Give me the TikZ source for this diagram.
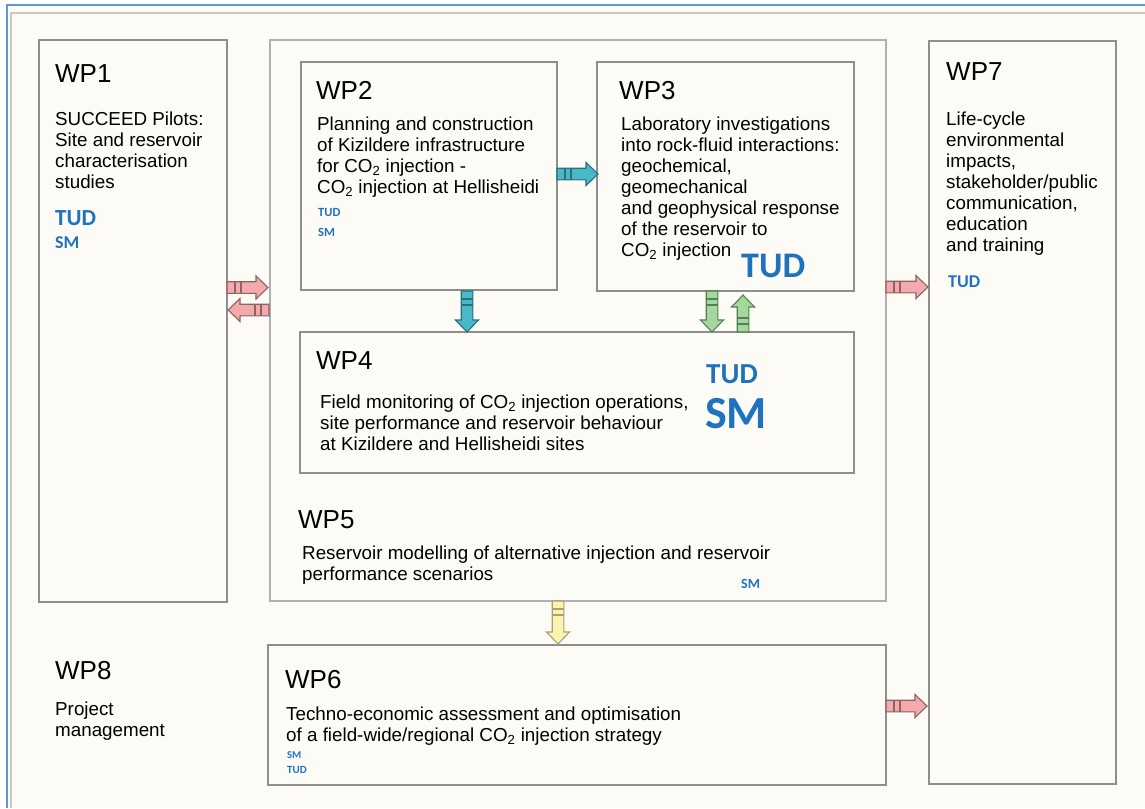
\documentclass[tikz,border=0pt]{standalone}
\usepackage{fontspec}
\setmainfont{Liberation Sans}
\newfontfamily\blfont{Carlito}
\usetikzlibrary{calc}
\definecolor{bgc}{HTML}{FCFBF6}
\definecolor{framebl}{HTML}{5B9BD5}
\definecolor{framegr}{HTML}{CCC8C0}
\definecolor{boxgr}{HTML}{8E8E8E}
\definecolor{tudblue}{HTML}{1F72BE}
\definecolor{pinkf}{HTML}{F4A9AD}
\definecolor{pinkd}{HTML}{8F6264}
\definecolor{tealf}{HTML}{47B9C9}
\definecolor{teald}{HTML}{2D6E78}
\definecolor{greenf}{HTML}{A6D79F}
\definecolor{greend}{HTML}{55804F}
\definecolor{yelf}{HTML}{FBF4AE}
\definecolor{yeld}{HTML}{A8A07A}
\newcommand\stk[1]{\vtop{\halign{##\hfil\cr#1\crcr}}}
\newcommand\cotwo{CO\textsubscript{2}}
\newcommand\bsz[1]{\blfont\bfseries\fontsize{#1}{#1}\selectfont}
\tikzset{
  box/.style={draw=boxgr, line width=1.2pt, fill=none, inner sep=0pt, outer sep=0pt, anchor=north west},
  wpl/.style={anchor=base west, inner sep=0pt, font=\fontsize{26}{30}\selectfont},
  txt/.style={anchor=base west, inner sep=0pt, font=\fontsize{18.8}{21}\selectfont},
  blu/.style={anchor=base west, inner sep=0pt, text=tudblue},
  barrow/.pic={
    \path[pic actions] (0,-5.8) -- (#1-12,-5.8) -- (#1-12,-11.5) -- (#1,0) -- (#1-12,11.5) -- (#1-12,5.8) -- (0,5.8) -- cycle;
    \path[pic actions, fill=none] (8,-5.8) -- (8,5.8) (14,-5.8) -- (14,5.8);
  },
  pinkarr/.style={fill=pinkf, draw=pinkd, line width=1.1pt},
  tealarr/.style={fill=tealf, draw=teald, line width=1.1pt},
  greenarr/.style={fill=greenf, draw=greend, line width=1.1pt},
  yelarr/.style={fill=yelf, draw=yeld, line width=1.1pt},
}
\begin{document}
\begin{tikzpicture}[x=1pt,y=-1pt]
\useasboundingbox (0,0) rectangle (1145,808);
\fill[white] (0,0) rectangle (1145,808);
\fill[bgc] (7,5) rectangle (1145,808);
\draw[framebl, line width=2pt] (7,808) -- (7,5) -- (1145,5);
\draw[framegr, line width=1.5pt] (11,808) -- (11,13) -- (1145,13);

% boxes
\node[box, minimum width=188, minimum height=562] (wp1) at (39,40) {};
\node[box, draw=boxgr!70, minimum width=616, minimum height=561] (cont) at (270,40) {};
\node[box, minimum width=256, minimum height=228] (wp2) at (301,62) {};
\node[box, minimum width=257, minimum height=229] (wp3) at (597,62) {};
\node[box, minimum width=554, minimum height=141] (wp4) at (300,332) {};
\node[box, minimum width=618, minimum height=140] (wp6) at (268,645) {};
\node[box, minimum width=187, minimum height=743] (wp7) at (929,41) {};

% arrows
\pic[pinkarr] at (227,287.5) {barrow=41};
\pic[pinkarr, rotate=180] at (269,310) {barrow=41};
\pic[tealarr] at (557,174) {barrow=41};
\pic[tealarr, rotate=-90] at (467,291) {barrow=41};
\pic[greenarr, rotate=-90] at (712,291) {barrow=41};
\pic[greenarr, rotate=90] at (743,332) {barrow=37};
\pic[yelarr, rotate=-90] at (558,601) {barrow=43};
\pic[pinkarr] at (886,287) {barrow=42};
\pic[pinkarr] at (886,706) {barrow=41};

% WP1
\node[wpl] (wp1l) at (55,82) {WP1};
\node[txt] (wp1t) at (55,125) {\stk{SUCCEED Pilots:\cr Site and reservoir\cr characterisation\cr studies}};
\node[blu, font=\bsz{23}] (wp1a) at (55,225) {TUD};
\node[blu, font=\bsz{18}] (wp1b) at (55,248) {SM};

% WP2
\node[wpl] (wp2l) at (316,99) {WP2};
\node[txt] (wp2t) at (317,130) {\stk{Planning and construction\cr of Kizildere infrastructure\cr for \cotwo\ injection -\cr \cotwo\ injection at Hellisheidi}};
\node[blu, font=\bsz{12.5}] (wp2a) at (318,216) {TUD};
\node[blu, font=\bsz{12.5}] (wp2b) at (318,236) {SM};

% WP3
\node[wpl] (wp3l) at (619,99) {WP3};
\node[txt] (wp3t) at (621,130) {\stk{Laboratory investigations\cr into rock-fluid interactions:\cr geochemical,\cr geomechanical\cr and geophysical response\cr of the reservoir to\cr \cotwo\ injection}};
\node[blu, font=\bsz{36}] (wp3a) at (741,277) {TUD};

% WP4
\node[wpl] (wp4l) at (316,369) {WP4};
\node[txt] (wp4t) at (320,408) {\stk{Field monitoring of \cotwo\ injection operations,\cr site performance and reservoir behaviour\cr at Kizildere and Hellisheidi sites}};
\node[blu, font=\bsz{29}] (wp4a) at (706,383) {TUD};
\node[blu, font=\bsz{46}] (wp4b) at (705,428) {SM};

% WP5
\node[wpl] (wp5l) at (298,528) {WP5};
\node[txt] (wp5t) at (302,559) {\stk{Reservoir modelling of alternative injection and reservoir\cr performance scenarios}};
\node[blu, font=\bsz{14}] (wp5a) at (741,588) {SM};

% WP6
\node[wpl] (wp6l) at (285,688) {WP6};
\node[txt] (wp6t) at (286,720) {\stk{Techno-economic assessment and optimisation\cr of a field-wide/regional \cotwo\ injection strategy}};
\node[blu, font=\bsz{10.5}] (wp6a) at (287,758) {SM};
\node[blu, font=\bsz{11}] (wp6b) at (287,773) {TUD};

% WP7
\node[wpl] (wp7l) at (946,81) {WP7};
\node[txt] (wp7t) at (946,125) {\stk{Life-cycle\cr environmental\cr impacts,\cr stakeholder/public\cr communication,\cr education\cr and training}};
\node[blu, font=\bsz{18}] (wp7a) at (948,287) {TUD};

% WP8
\node[wpl] (wp8l) at (55,679) {WP8};
\node[txt] (wp8t) at (55,715) {\stk{Project\cr management}};
\end{tikzpicture}
\end{document}
